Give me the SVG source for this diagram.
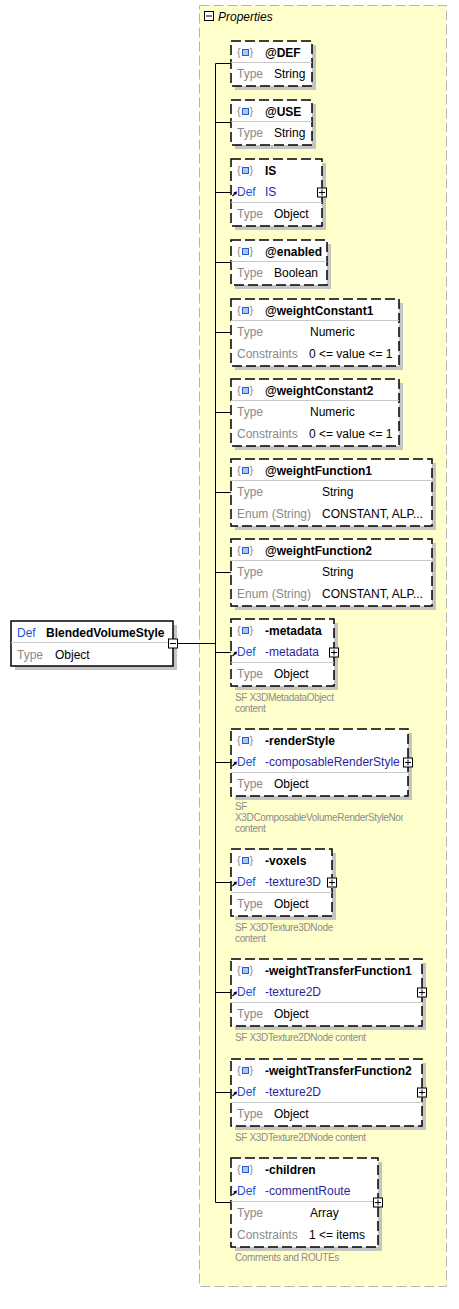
<svg xmlns="http://www.w3.org/2000/svg" xmlns:xlink="http://www.w3.org/1999/xlink" width="459" height="1309" viewBox="0 0 459 1309">
<style>
text{font-family:"Liberation Sans",Arial,sans-serif;font-size:12px;fill:#000}
.nm{font-weight:bold}
.lb{fill:#8a8a8a}
.df{fill:#1c4fd8}
.dv{fill:#2a1fa0}
.cap{font-size:10px;fill:#8c8c8c;letter-spacing:-0.35px}
.br{font-size:11px;fill:#8a8a8a}
.box{fill:#fff;stroke:#000;stroke-width:1.5;stroke-dasharray:10 4}
.rbox{fill:#fff;stroke:#000;stroke-width:1.5}
.sh{fill:#c4c4c4}
.sep{stroke:#c8c8c8;stroke-width:1}
.pm{fill:#fff;stroke:#000;stroke-width:1}
.pl{stroke:#000;stroke-width:1}
.cn{stroke:#000;stroke-width:1;fill:none}
</style>
<defs>
<g id="ico">
<text class="br" x="237" y="15">{</text>
<rect x="242.5" y="8.5" width="6" height="6" fill="#a9c9f2" stroke="#2a5cd0" stroke-width="1"/>
<text class="br" x="249.5" y="15">}</text>
</g>
<g id="ref">
<path d="M232.5,37 L235.5,34" stroke="#000" stroke-width="1.2"/>
<polygon points="237,32.5 233.5,33.3 236.2,36" fill="#000"/>
</g>
<clipPath id="capclip"><rect x="230" y="800" width="173" height="40"/></clipPath>
</defs>

<g id="properties">
<rect x="199.5" y="5.5" width="247" height="1281" fill="#ffffcc" stroke="#b4b4b4" stroke-width="1" stroke-dasharray="10 4"/>
<rect class="pm" x="204.5" y="11.5" width="9" height="9"/>
<line class="pl" x1="206" y1="16" x2="212" y2="16"/>
<text x="218" y="21" font-style="italic" fill="#14145a">Properties</text>
</g>

<g id="connectors">
<line class="cn" x1="178" y1="643.5" x2="215.5" y2="643.5"/>
<line class="cn" x1="215.5" y1="63.5" x2="215.5" y2="1202.5"/>
<line class="cn" x1="215.5" y1="63.5" x2="231" y2="63.5"/>
<line class="cn" x1="215.5" y1="122.5" x2="231" y2="122.5"/>
<line class="cn" x1="215.5" y1="192.5" x2="231" y2="192.5"/>
<line class="cn" x1="215.5" y1="262.5" x2="231" y2="262.5"/>
<line class="cn" x1="215.5" y1="332.5" x2="231" y2="332.5"/>
<line class="cn" x1="215.5" y1="412.5" x2="231" y2="412.5"/>
<line class="cn" x1="215.5" y1="492.5" x2="231" y2="492.5"/>
<line class="cn" x1="215.5" y1="572.5" x2="231" y2="572.5"/>
<line class="cn" x1="215.5" y1="652.5" x2="231" y2="652.5"/>
<line class="cn" x1="215.5" y1="762.5" x2="231" y2="762.5"/>
<line class="cn" x1="215.5" y1="882.5" x2="231" y2="882.5"/>
<line class="cn" x1="215.5" y1="992.5" x2="231" y2="992.5"/>
<line class="cn" x1="215.5" y1="1092.5" x2="231" y2="1092.5"/>
<line class="cn" x1="215.5" y1="1202.5" x2="231" y2="1202.5"/>
</g>

<g id="root">
<rect class="sh" x="15" y="625" width="162" height="45"/>
<rect class="rbox" x="11" y="621" width="162" height="45"/>
<line class="sep" x1="11" y1="642.5" x2="173" y2="642.5"/>
<text class="df" x="17" y="637">Def</text>
<text class="nm" x="46" y="637">BlendedVolumeStyle</text>
<text class="lb" x="17" y="659">Type</text>
<text x="55" y="659">Object</text>
<rect class="pm" x="168.5" y="639" width="9" height="9"/>
<line class="pl" x1="170" y1="643.5" x2="176" y2="643.5"/>
</g>

<g id="n-DEF">
<rect class="sh" x="235" y="45" width="81" height="45"/>
<rect class="box" x="231" y="41" width="81" height="45"/>
<line class="sep" x1="231" y1="62.5" x2="312" y2="62.5"/>
<use xlink:href="#ico" y="41"/>
<text class="nm" x="265" y="57">@DEF</text>
<text class="lb" x="237" y="78">Type</text>
<text x="274" y="78">String</text>
</g>

<g id="n-USE">
<rect class="sh" x="235" y="104" width="81" height="45"/>
<rect class="box" x="231" y="100" width="81" height="45"/>
<line class="sep" x1="231" y1="121.5" x2="312" y2="121.5"/>
<use xlink:href="#ico" y="100"/>
<text class="nm" x="265" y="116">@USE</text>
<text class="lb" x="237" y="137">Type</text>
<text x="274" y="137">String</text>
</g>

<g id="n-IS">
<rect class="sh" x="235" y="163" width="91" height="67"/>
<rect class="box" x="231" y="159" width="91" height="67"/>
<line class="sep" x1="231" y1="202.5" x2="322" y2="202.5"/>
<use xlink:href="#ico" y="159"/>
<use xlink:href="#ref" y="159"/>
<text class="nm" x="265" y="175">IS</text>
<text class="df" x="237" y="196">Def</text>
<text class="dv" x="265" y="196">IS</text>
<text class="lb" x="237" y="218">Type</text>
<text x="274" y="218">Object</text>
<rect class="pm" x="317.5" y="188" width="9" height="9"/>
<line class="pl" x1="319" y1="192.5" x2="325" y2="192.5"/>
<line class="pl" x1="322" y1="189.5" x2="322" y2="195.5"/>
</g>

<g id="n-enabled">
<rect class="sh" x="235" y="244" width="96" height="45"/>
<rect class="box" x="231" y="240" width="96" height="45"/>
<line class="sep" x1="231" y1="261.5" x2="327" y2="261.5"/>
<use xlink:href="#ico" y="240"/>
<text class="nm" x="265" y="256">@enabled</text>
<text class="lb" x="237" y="277">Type</text>
<text x="274" y="277">Boolean</text>
</g>

<g id="n-weightConstant1">
<rect class="sh" x="235" y="303" width="168" height="67"/>
<rect class="box" x="231" y="299" width="168" height="67"/>
<line class="sep" x1="231" y1="320.5" x2="399" y2="320.5"/>
<use xlink:href="#ico" y="299"/>
<text class="nm" x="265" y="315">@weightConstant1</text>
<text class="lb" x="237" y="336">Type</text>
<text x="310" y="336">Numeric</text>
<text class="lb" x="237" y="358">Constraints</text>
<text x="309" y="358">0 &lt;= value &lt;= 1</text>
</g>

<g id="n-weightConstant2">
<rect class="sh" x="235" y="383" width="168" height="67"/>
<rect class="box" x="231" y="379" width="168" height="67"/>
<line class="sep" x1="231" y1="400.5" x2="399" y2="400.5"/>
<use xlink:href="#ico" y="379"/>
<text class="nm" x="265" y="395">@weightConstant2</text>
<text class="lb" x="237" y="416">Type</text>
<text x="310" y="416">Numeric</text>
<text class="lb" x="237" y="438">Constraints</text>
<text x="309" y="438">0 &lt;= value &lt;= 1</text>
</g>

<g id="n-weightFunction1">
<rect class="sh" x="235" y="463" width="201" height="67"/>
<rect class="box" x="231" y="459" width="201" height="67"/>
<line class="sep" x1="231" y1="480.5" x2="432" y2="480.5"/>
<use xlink:href="#ico" y="459"/>
<text class="nm" x="265" y="475">@weightFunction1</text>
<text class="lb" x="237" y="496">Type</text>
<text x="322" y="496">String</text>
<text class="lb" x="237" y="518">Enum (String)</text>
<text x="322" y="518">CONSTANT, ALP...</text>
</g>

<g id="n-weightFunction2">
<rect class="sh" x="235" y="543" width="201" height="67"/>
<rect class="box" x="231" y="539" width="201" height="67"/>
<line class="sep" x1="231" y1="560.5" x2="432" y2="560.5"/>
<use xlink:href="#ico" y="539"/>
<text class="nm" x="265" y="555">@weightFunction2</text>
<text class="lb" x="237" y="576">Type</text>
<text x="322" y="576">String</text>
<text class="lb" x="237" y="598">Enum (String)</text>
<text x="322" y="598">CONSTANT, ALP...</text>
</g>

<g id="n-metadata">
<rect class="sh" x="235" y="623" width="103" height="67"/>
<rect class="box" x="231" y="619" width="103" height="67"/>
<line class="sep" x1="231" y1="662.5" x2="334" y2="662.5"/>
<use xlink:href="#ico" y="619"/>
<use xlink:href="#ref" y="619"/>
<text class="nm" x="265" y="635">-metadata</text>
<text class="df" x="237" y="656">Def</text>
<text class="dv" x="265" y="656">-metadata</text>
<text class="lb" x="237" y="678">Type</text>
<text x="274" y="678">Object</text>
<rect class="pm" x="329.5" y="648" width="9" height="9"/>
<line class="pl" x1="331" y1="652.5" x2="337" y2="652.5"/>
<line class="pl" x1="334" y1="649.5" x2="334" y2="655.5"/>
<text class="cap" x="235" y="701">SF X3DMetadataObject</text>
<text class="cap" x="235" y="712">content</text>
</g>

<g id="n-renderStyle">
<rect class="sh" x="235" y="733" width="177" height="67"/>
<rect class="box" x="231" y="729" width="177" height="67"/>
<line class="sep" x1="231" y1="772.5" x2="408" y2="772.5"/>
<use xlink:href="#ico" y="729"/>
<use xlink:href="#ref" y="729"/>
<text class="nm" x="265" y="745">-renderStyle</text>
<text class="df" x="237" y="766">Def</text>
<text class="dv" x="265" y="766">-composableRenderStyle</text>
<text class="lb" x="237" y="788">Type</text>
<text x="274" y="788">Object</text>
<rect class="pm" x="403.5" y="758" width="9" height="9"/>
<line class="pl" x1="405" y1="762.5" x2="411" y2="762.5"/>
<line class="pl" x1="408" y1="759.5" x2="408" y2="765.5"/>
<text class="cap" x="235" y="810">SF</text>
<text class="cap" x="235" y="821" clip-path="url(#capclip)">X3DComposableVolumeRenderStyleNode</text>
<text class="cap" x="235" y="832">content</text>
</g>

<g id="n-voxels">
<rect class="sh" x="235" y="853" width="101" height="67"/>
<rect class="box" x="231" y="849" width="101" height="67"/>
<line class="sep" x1="231" y1="892.5" x2="332" y2="892.5"/>
<use xlink:href="#ico" y="849"/>
<use xlink:href="#ref" y="849"/>
<text class="nm" x="265" y="865">-voxels</text>
<text class="df" x="237" y="886">Def</text>
<text class="dv" x="265" y="886">-texture3D</text>
<text class="lb" x="237" y="908">Type</text>
<text x="274" y="908">Object</text>
<rect class="pm" x="327.5" y="878" width="9" height="9"/>
<line class="pl" x1="329" y1="882.5" x2="335" y2="882.5"/>
<line class="pl" x1="332" y1="879.5" x2="332" y2="885.5"/>
<text class="cap" x="235" y="931">SF X3DTexture3DNode</text>
<text class="cap" x="235" y="942">content</text>
</g>

<g id="n-weightTransferFunction1">
<rect class="sh" x="235" y="963" width="191" height="67"/>
<rect class="box" x="231" y="959" width="191" height="67"/>
<line class="sep" x1="231" y1="1002.5" x2="422" y2="1002.5"/>
<use xlink:href="#ico" y="959"/>
<use xlink:href="#ref" y="959"/>
<text class="nm" x="265" y="975">-weightTransferFunction1</text>
<text class="df" x="237" y="996">Def</text>
<text class="dv" x="265" y="996">-texture2D</text>
<text class="lb" x="237" y="1018">Type</text>
<text x="274" y="1018">Object</text>
<rect class="pm" x="417.5" y="988" width="9" height="9"/>
<line class="pl" x1="419" y1="992.5" x2="425" y2="992.5"/>
<line class="pl" x1="422" y1="989.5" x2="422" y2="995.5"/>
<text class="cap" x="235" y="1041">SF X3DTexture2DNode content</text>
</g>

<g id="n-weightTransferFunction2">
<rect class="sh" x="235" y="1063" width="191" height="67"/>
<rect class="box" x="231" y="1059" width="191" height="67"/>
<line class="sep" x1="231" y1="1102.5" x2="422" y2="1102.5"/>
<use xlink:href="#ico" y="1059"/>
<use xlink:href="#ref" y="1059"/>
<text class="nm" x="265" y="1075">-weightTransferFunction2</text>
<text class="df" x="237" y="1096">Def</text>
<text class="dv" x="265" y="1096">-texture2D</text>
<text class="lb" x="237" y="1118">Type</text>
<text x="274" y="1118">Object</text>
<rect class="pm" x="417.5" y="1088" width="9" height="9"/>
<line class="pl" x1="419" y1="1092.5" x2="425" y2="1092.5"/>
<line class="pl" x1="422" y1="1089.5" x2="422" y2="1095.5"/>
<text class="cap" x="235" y="1141">SF X3DTexture2DNode content</text>
</g>

<g id="n-children">
<rect class="sh" x="235" y="1162" width="147" height="89"/>
<rect class="box" x="231" y="1158" width="147" height="89"/>
<line class="sep" x1="231" y1="1201.5" x2="378" y2="1201.5"/>
<use xlink:href="#ico" y="1158"/>
<use xlink:href="#ref" y="1158"/>
<text class="nm" x="265" y="1174">-children</text>
<text class="df" x="237" y="1195">Def</text>
<text class="dv" x="265" y="1195">-commentRoute</text>
<text class="lb" x="237" y="1217">Type</text>
<text x="310" y="1217">Array</text>
<text class="lb" x="237" y="1239">Constraints</text>
<text x="309" y="1239">1 &lt;= items</text>
<rect class="pm" x="373.5" y="1198" width="9" height="9"/>
<line class="pl" x1="375" y1="1202.5" x2="381" y2="1202.5"/>
<line class="pl" x1="378" y1="1199.5" x2="378" y2="1205.5"/>
<text class="cap" x="235" y="1261">Comments and ROUTEs</text>
</g>
</svg>
